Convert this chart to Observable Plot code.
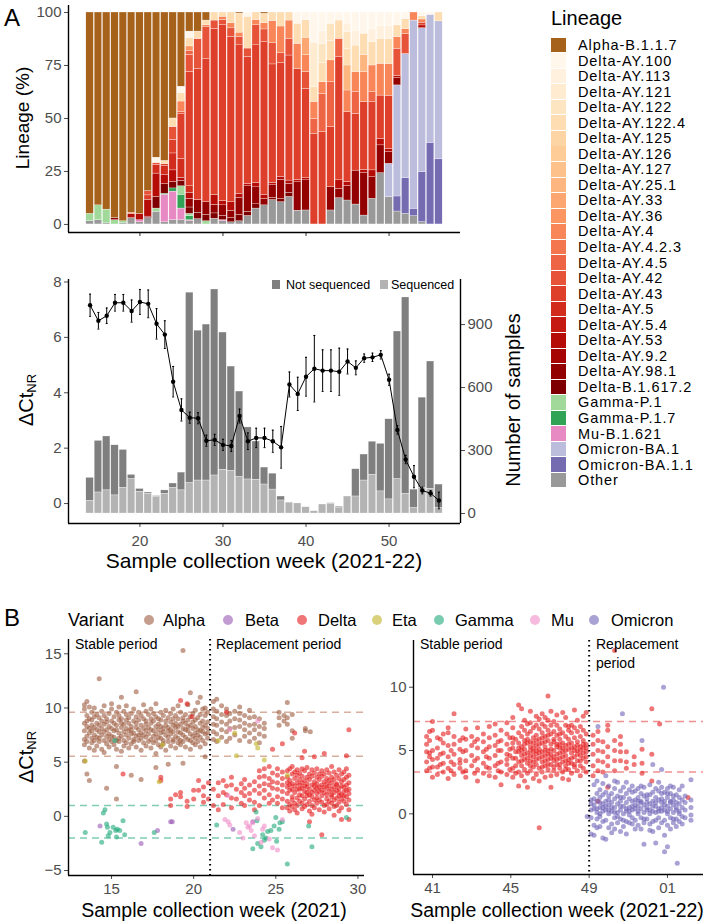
<!DOCTYPE html>
<html><head><meta charset="utf-8">
<script src="https://cdn.jsdelivr.net/npm/d3@7"></script>
<script src="https://cdn.jsdelivr.net/npm/@observablehq/plot@0.6"></script>
<style>
body{margin:0;background:#fff;}
#fig{position:relative;width:708px;height:924px;font-family:"Liberation Sans",Arial,Helvetica,sans-serif;color:#000;overflow:hidden;background:#fff}
.abs{position:absolute;white-space:nowrap;line-height:1}
.rot{transform:translate(-50%,-50%) rotate(-90deg)}
.ctr{transform:translate(-50%,-50%)}
.vc{transform:translateY(-50%)}
svg{position:absolute;overflow:visible}
</style></head><body><div id="fig"></div>
<script>
// ---------------- DATA: panel A top (lineage %, [week, value]) ----------------
const weeks = [14,15,16,17,18,19,20,21,22,23,24,25,26,27,28,29,30,31,32,33,34,35,36,37,38,39,40,41,42,43,44,45,46,47,48,49,50,51,52,53,54,55,56];
const lineages = ["Alpha-B.1.1.7","Delta-AY.100","Delta-AY.113","Delta-AY.121","Delta-AY.122","Delta-AY.122.4","Delta-AY.125","Delta-AY.126","Delta-AY.127","Delta-AY.25.1","Delta-AY.33","Delta-AY.36","Delta-AY.4","Delta-AY.4.2.3","Delta-AY.4.5","Delta-AY.42","Delta-AY.43","Delta-AY.5","Delta-AY.5.4","Delta-AY.53","Delta-AY.9.2","Delta-AY.98.1","Delta-B.1.617.2","Gamma-P.1","Gamma-P.1.7","Mu-B.1.621","Omicron-BA.1","Omicron-BA.1.1","Other"];
const alphaB117 = [[14,95],[15,91],[16,93],[17,97],[18,98.5],[19,94.5],[20,95],[21,84.3],[22,68.5],[23,70],[24,50],[25,35],[26,9],[27,9],[28,3.8],[32,0.5],[35,0.6]];
const deltaAY100 = [[22,2.5],[25,3],[26,3],[33,2],[39,5.3],[40,3.7],[41,14.2],[42,8.8],[43,5.3],[44,3.8],[45,5.3],[46,8.6],[47,10],[48,8],[49,6.4],[50,6.5],[51,6.1],[52,3.1],[54,1.8],[55,1.1]];
const deltaAY113 = [[42,6],[45,4],[46,7],[48,6],[49,6],[50,6]];
const deltaAY121 = [[41,21]];
const deltaAY122 = [[42,9],[43,8],[45,8]];
const deltaAY1224 = [[23,1.5],[24,4],[25,4],[26,4],[27,3.5],[28,2.2],[29,3.8],[30,2],[31,5],[32,9],[33,15],[34,3.5],[35,4.4],[36,4],[37,6.6],[38,3.8],[39,9.5],[40,8.2],[41,7],[42,9.1],[43,9.3],[44,8.6],[45,7.7],[46,12.5],[47,10],[48,11],[49,11.8],[50,11.8],[51,5.5],[52,4.7],[54,1.5],[56,4.2]];
const deltaAY125 = [];
const deltaAY126 = [];
const deltaAY127 = [];
const deltaAY251 = [[45,11.8],[47,8.1]];
const deltaAY33 = [[40,8.2]];
const deltaAY36 = [[26,2]];
const deltaAY4 = [[19,0.5],[25,5],[28,1],[30,1.5],[31,2.5],[32,2],[34,2.5],[35,3],[36,10.5],[37,12.6],[38,8.6],[39,11.8],[40,8],[41,8],[42,5.5],[43,10.3],[45,10.2],[46,9.5],[47,14.2],[48,12.6],[49,15],[50,15],[51,5.5],[52,2.4],[53,3.8],[54,1.5]];
const deltaAY423 = [];
const deltaAY45 = [[26,2],[41,7],[42,18],[43,21.2],[44,8.7],[46,10.2],[48,4.7]];
const deltaAY42 = [[21,2],[22,1],[24,6],[25,1],[26,8],[27,14],[28,15],[29,3.9],[30,2.5],[31,4],[32,4],[33,4],[34,9.5],[35,6],[36,10],[37,4.7],[38,7.9],[40,7.9],[51,12.9],[52,9.4]];
const deltaAY43 = [[21,2],[23,1],[24,6.5],[25,21],[26,54],[27,62],[28,67.5],[29,78.4],[30,83],[31,78],[32,70],[33,60],[34,65],[35,72],[36,56],[37,53.6],[38,59],[39,52.5],[40,42.2],[41,42.8],[42,43.6],[43,28.3],[44,58.1],[45,33],[46,26.8],[47,32],[48,32.2],[49,20.4],[50,25],[54,1.3]];
const deltaAY5 = [[22,4],[23,4],[24,8],[25,9],[26,3]];
const deltaAY54 = [];
const deltaAY53 = [[19,2],[20,3],[21,8],[22,11],[23,4.5],[24,5.5],[25,1.5],[26,3],[29,4.7],[30,2],[31,4],[32,2],[33,1],[34,2],[35,2],[36,1],[37,1.5],[38,1.5],[39,1],[40,1],[44,4],[45,1.7],[47,1.5],[48,3.2],[49,3.1],[50,1.6],[51,1],[54,1.3]];
const deltaAY92 = [];
const deltaAY981 = [[17,1],[26,4],[27,6],[28,6],[29,4],[30,5],[31,3.5],[32,8],[33,12],[34,8],[35,3],[36,6],[37,9],[38,4.2],[39,13.4],[40,14.2],[43,11],[44,4.4],[45,7],[46,16],[47,20],[48,10.2],[49,13.1],[50,5.5],[51,3.4]];
const deltaB16172 = [[21,0.7],[22,5.5],[23,4.5],[24,3],[25,2.5],[26,3],[27,3],[28,3],[29,2.5],[30,2],[31,2],[32,3],[33,2],[34,2],[36,1],[37,1.5],[38,2]];
const gammaP1 = [[14,3.5],[15,7],[16,6.5],[17,2],[18,1],[22,1.5],[25,4],[26,1],[28,1.5]];
const gammaP17 = [[23,0.5],[24,1.5],[25,6.5],[26,2]];
const muB1621 = [[20,1],[23,13],[24,13.5],[25,5.5],[26,0.5],[30,0.5]];
const omicronBA1 = [[50,15.7],[51,52.4],[52,58.6],[53,88.8],[54,67.9],[55,60.4],[56,65.1]];
const omicronBA11 = [[51,7.1],[52,16.8],[53,3.5],[54,23.6],[55,38.5],[56,30.7]];
const otherLineage = [[14,1.5],[15,2],[16,0.5],[18,0.5],[19,3],[20,1],[21,3],[22,6],[23,1],[24,2],[25,2],[26,1.5],[27,2.5],[29,2.7],[30,1.5],[31,1],[32,1.5],[33,4],[34,7.5],[35,9],[36,11.5],[37,10.5],[38,13],[39,6.5],[40,6.6],[43,6.6],[44,12.4],[45,11.3],[46,9.4],[47,4.2],[48,12.1],[49,24.2],[50,12.9],[51,6.1],[52,5],[53,3.9],[54,1.1]];

// ---------------- DATA: panel A bottom ----------------
const totalSamples = [170,346,367,325,303,184,117,100,83,110,143,195,1052,871,900,1067,862,700,581,410,343,219,190,81,52,48,30,11,43,49,32,81,211,281,342,332,449,867,1029,114,552,724,138];
const sequencedSamples = [59,100,110,86,121,163,103,94,78,94,121,110,144,157,157,181,208,202,173,162,160,138,114,62,52,48,30,11,43,45,25,81,81,157,184,105,67,163,94,25,120,117,25];
const deltaCtMean = [7.16,6.6,6.78,7.25,7.25,6.95,7.28,7.21,6.49,6.1,4.4,3.38,3.1,3.08,2.27,2.3,2.12,2.08,3.16,2.25,2.37,2.37,2.25,2.03,4.3,3.96,4.58,4.87,4.8,4.8,4.76,5.13,4.9,5.25,5.28,5.37,4.47,2.66,1.59,0.97,0.47,0.37,0.11];
const deltaCtErr = [0.4,0.3,0.28,0.3,0.3,0.4,0.45,0.5,0.55,0.5,0.55,0.4,0.2,0.2,0.2,0.2,0.2,0.2,0.25,0.3,0.35,0.35,0.4,0.75,0.45,0.6,0.7,1.2,0.75,0.75,0.85,0.45,0.25,0.15,0.15,0.15,0.2,0.15,0.15,0.4,0.12,0.1,0.3];

// ---------------- DATA: panel B (x = week, y = ΔCt) ----------------
const alphaLeft = [
[13.35,[5.1,7.9,8.6,9.9,7.1,10.3,6.6]],[13.5,[3.9,8.3,7.4,9.3,10.6,6.9,8.8]],[13.65,[3.3,7.7,9.0,8.1,6.3,10.1]],[13.8,[7.2,8.9,6.8,9.6,7.9,8.4]],
[13.95,[6.1,8.2,7.5,9.2,10.0,7.0]],[14.1,[8.6,7.3,6.5,9.4,8.0]],[14.25,[12.7,7.8,9.1,6.9,8.4,7.2]],[14.4,[7.5,8.8,6.2,9.7,8.1]],
[14.55,[5.9,7.0,8.5,9.3,7.8,10.2]],[14.7,[2.6,8.0,6.7,7.4,9.0,8.7]],[14.85,[7.6,9.5,6.4,8.3,7.1]],[15.0,[6.9,8.1,9.9,7.4,8.8,10.4]],
[15.15,[7.3,8.6,6.6,9.2,7.9]],[15.3,[1.6,4.6,8.4,7.0,9.6,6.2,8.0]],[15.45,[7.7,8.9,6.9,9.3,7.2,10.1]],[15.6,[11.0,8.2,7.4,6.0,9.0,8.6]],
[15.75,[7.0,8.5,9.7,6.5,7.8]],[15.9,[6.8,7.5,8.9,9.4,8.1,10.2]],[16.05,[7.9,6.3,8.6,9.1,7.2]],[16.2,[3.8,7.6,8.3,6.7,9.5,8.0]],
[16.35,[7.1,8.8,9.9,6.9,7.7]],[16.5,[11.5,8.2,7.4,9.2,6.4,8.6]],[16.65,[7.0,8.0,9.6,7.5,8.9]],[16.8,[3.4,6.1,7.7,8.4,9.3,7.2]],
[16.95,[8.1,6.8,9.0,7.5,10.3]],[17.1,[7.3,8.5,6.5,9.7,7.9,8.8]],[17.25,[6.9,8.2,9.4,7.6]],[17.4,[8.0,7.1,9.0,6.3,8.6,9.9]],
[17.55,[7.4,8.8,6.8,9.5,7.9]],[17.7,[4.5,7.0,8.3,9.2,7.6,10.4,5.8]],[17.85,[8.5,7.3,6.6,9.0,8.0]],[18.0,[7.7,8.9,6.4,9.6,7.2,8.3]],
[18.15,[7.0,8.1,9.3,7.8,6.7]],[18.3,[8.4,7.5,9.8,6.1,8.8]],[18.45,[4.8,7.9,6.9,9.1,8.2,7.3]],[18.6,[7.6,8.7,9.5,6.5,8.0]],
[18.75,[7.1,8.4,9.9,6.9,7.8,9.0]],[18.9,[8.2,7.4,6.3,9.3,8.6]],[19.05,[7.8,9.0,6.8,8.3,10.2,7.2]],[19.2,[8.5,7.0,9.6,7.7,6.6]],
[19.35,[15.3,4.9,8.1,7.5,9.1,8.8,6.9]],[19.5,[7.3,8.6,9.4,6.4,8.0]],[19.65,[7.9,8.9,7.1,10.3,8.3]],[19.8,[11.4,7.6,8.4,6.2,9.2,7.0]],
[19.95,[8.1,9.5,7.4,6.8,8.7]],[20.1,[7.7,8.9,9.8,7.2,8.3,6.6]],[20.25,[10.5,8.0,7.5,9.1,6.9]],[20.4,[11.0,8.6,7.3,9.4,7.9,6.4]],
[20.55,[7.8,8.8,9.9,7.0,8.2]],[20.7,[5.5,8.4,7.6,9.3,6.7,10.0]],[20.85,[8.1,7.2,9.6,8.7,7.7]],
[21.2,[7.1,7.8,8.5,9.2,9.9,10.6]],[21.4,[6.9,7.6,8.4,9.0,9.7,10.8]],[21.7,[7.3,8.0,8.7,9.4,10.2]],[22.0,[6.9,7.8,8.5,9.3,9.9]],
[22.2,[7.2,8.1,8.8,9.5]],[22.5,[7.5,8.2,9.0,9.7]],[22.8,[7.0,8.3,8.9,9.5,10.1]],[23.1,[7.4,8.0,8.6,9.3]],[23.4,[6.9,7.7,8.4,9.1,9.8]],
[23.7,[7.2,8.0,8.5,9.2]],[24.0,[6.8,7.6,8.3,9.0]],[24.3,[7.4,8.1,8.6]],[25.2,[8.4,9.1,9.6]],[25.5,[8.8,9.3]],[25.7,[8.5,9.1,10.5]],
[26.0,[7.2,7.9,9.4]],[26.8,[8.1,7.9]],[27.1,[7.8]]
];
const deltaLeft = [
[15.7,[3.9]],[18.0,[3.6,3.3]],[18.6,[1.6,1.0]],[18.9,[2.0]],[19.2,[10.7,1.8,2.2]],[19.6,[10.4,1.4,0.9]],[19.9,[9.2]],[20.0,[2.4,1.6]],[20.3,[2.4,3.3]],
[20.6,[1.3,1.9,2.7]],[20.9,[1.6,3.1]],[21.2,[2.5,1.0]],[21.5,[3.1,1.9,0.6]],[21.8,[3.3,2.2,1.1]],[22.0,[2.8,2.0,9.6]],[22.3,[1.7,2.9,3.6,0.8]],
[22.6,[2.5,1.6]],[22.9,[3.0,2.2,1.2]],[23.1,[2.6,1.9,1.0,3.4]],[23.4,[2.1,2.9,1.5]],[23.7,[3.2,2.4,1.3,0.6]],[24.0,[2.8,2.1,3.6,4.2,1.0]],
[24.3,[2.4,3.0,3.7,4.4,1.7]],[24.6,[2.0,2.9,3.5,4.6,1.2]],[24.8,[2.6,3.2,4.0,1.5,6.2]],[25.1,[1.8,2.5,3.1,3.8,4.4,1.2]],[25.4,[0.8,1.6,2.3,2.9,3.5,4.1,6.7]],
[25.7,[1.4,2.7,3.6,0.8,2.1,4.2,3.1]],[25.85,[2.4,1.1,3.3,4.4,0.5,2.9]],[26.0,[1.8,3.0,2.5,0.9,3.9,4.6,1.5]],[26.15,[2.2,3.5,1.2,4.1,2.8,0.6,7.7]],
[26.3,[3.1,1.7,2.5,3.8,0.3,4.3,1.0]],[26.45,[2.0,2.9,1.4,3.4,4.0,2.5]],[26.6,[1.2,2.6,3.7,0.7,3.1,1.9,5.4,4.4]],[26.75,[2.3,3.3,1.6,4.2,0.9,2.8,6.0]],
[26.9,[1.9,2.7,3.6,1.1,3.0,4.5,2.2]],[27.05,[2.5,1.4,3.4,0.5,3.9,2.0,-0.5]],[27.2,[2.9,1.8,3.7,2.2,4.3,1.0,0.2]],[27.35,[1.5,2.4,3.2,4.0,0.8,2.8,5.5]],
[27.5,[2.1,3.0,1.2,3.6,2.6,4.4,1.7]],[27.65,[2.7,1.5,3.4,0.6,2.3,3.9]],[27.8,[1.9,2.9,3.7,-1.7,1.3,2.4,4.2]],[27.95,[2.2,3.2,1.0,3.9,2.7,0.4,5.8]],
[28.1,[1.6,2.6,3.5,4.3,2.0,1.1,3.0]],[28.25,[2.8,1.4,3.3,2.3,0.7,4.0]],[28.4,[2.0,3.1,1.8,4.6,2.5,3.6,1.2]],[28.55,[1.5,2.7,3.4,0.9,2.2,4.1,0.1]],
[28.7,[2.4,3.0,1.7,3.8,2.9,1.0]],[28.85,[1.9,2.6,3.5,1.3,4.3,2.2,0.5]],[29.0,[2.8,1.6,3.2,2.0,3.9,0.8,-0.3]],[29.15,[2.3,3.4,1.4,2.7,4.1,1.9]],
[29.3,[1.8,2.9,3.6,1.1,2.4,4.4,5.6]],[29.45,[2.5,1.5,3.1,0.6,3.8,2.1,8.0,-0.3]]
];
const gammaLeft = [[13.4,-1.5],[14.4,-2.4],[14.5,0.3],[14.6,0.6],[14.7,-0.7],[14.75,-1.0],[14.8,-1.8],[14.9,-1.5],[15.1,-1.0],[15.2,7.0],[15.25,-1.3],[15.3,-1.9],[15.35,-1.2],[15.5,-1.3],[15.7,-0.4],[15.8,-1.7],[17.6,-1.5],[21.4,-0.8],[23.6,-3.0],[23.8,0.4],[23.85,-0.4],[23.9,-2.5],[24.1,-2.8],[24.2,-1.7],[24.3,-2.2],[24.4,-2.0],[24.5,-1.4],[24.7,-1.3],[24.9,-0.9],[25.0,-0.1],[25.05,-2.3],[25.2,-1.2],[25.25,-0.6],[25.4,-0.5],[25.7,-4.4],[27.0,-0.9],[27.2,-2.8],[29.3,-0.1]];
const betaLeft = [[14.3,-0.9],[16.8,-2.5],[17.8,-1.3],[18.6,-0.5],[18.7,-0.5],[22.4,-1.2],[23.6,-0.5]];
const muLeft = [[22.2,8.0],[23.9,8.8],[21.9,-0.3],[22.1,-0.5],[22.2,-0.8],[22.8,-1.5],[23.0,-2.0],[23.2,-0.6],[23.3,-1.0],[23.4,-0.9],[23.5,-1.3],[23.6,-0.6],[23.7,-1.8],[23.9,-0.2],[24.1,-2.4],[24.2,-1.2],[24.3,-0.9],[24.6,-2.1],[24.8,-2.9],[25.1,-3.1],[25.4,-0.3],[22.1,1.9]];
const etaLeft = [[13.4,5.1],[17.9,3.2],[18.1,6.6],[21.5,7.0],[22.5,7.7],[22.6,5.6],[23.8,6.7],[23.9,6.3],[24.3,5.2],[25.7,3.8]];
const deltaRight = [
[40.7,[3.4,4.9,6.1,4.1,5.5]],[40.85,[4.5,5.8,3.6,6.5,4.8]],[41.0,[2.9,5.0,4.3,6.6,7.3,3.7]],[41.25,[3.7,5.2,4.4,6.0,3.1]],[41.4,[5.9,4.7,3.9]],
[41.55,[3.3,4.8,5.6,6.3,4.0]],[41.8,[2.8,4.5,5.4,3.6,6.4,6.8]],[41.95,[5.0,4.1,3.4]],[42.1,[3.1,4.7,5.5,3.9,6.1,7.9]],[42.4,[3.6,5.1,4.3,5.8,4.0]],
[42.55,[4.9,3.3,6.0]],[42.7,[2.9,4.2,5.0,3.4,5.9,6.7]],[43.0,[3.8,5.4,4.6,6.1]],[43.15,[4.2,5.7,3.2]],[43.3,[2.6,4.4,3.5,5.2,5.9,6.8]],
[43.6,[3.2,4.9,4.0,5.7,6.3]],[43.75,[5.1,3.7,4.5]],[43.9,[3.6,5.3,4.4,6.0,6.9,3.0]],[44.2,[2.9,4.6,3.8,5.4,6.2,7.1]],[44.35,[4.0,5.0,3.4,5.7]],
[44.5,[3.3,5.0,4.1,5.8,6.6,2.3]],[44.8,[3.1,4.7,3.9,5.5,6.3,7.2,4.3]],[44.95,[5.1,3.5,6.0,4.6]],[45.1,[2.9,4.4,3.6,5.2,6.0,6.8,7.6,5.6]],
[45.25,[3.8,4.9,5.9,3.2,4.4]],[45.4,[3.3,4.9,4.1,5.6,6.4,8.6,2.2,5.2]],[45.55,[3.0,4.6,3.8,5.3,6.1,6.9,8.3,4.2,5.0]],[45.7,[2.6,4.3,3.5,5.1,5.8,6.6,7.4,4.7,5.5]],
[45.85,[3.2,4.8,4.0,5.6,6.3,7.1,2.1,4.4,5.9]],[46.0,[3.4,5.0,4.2,5.7,6.5,7.2,8.1,4.6,5.3,3.8]],[46.15,[2.8,4.5,3.7,5.2,6.0,6.8,4.9,5.6,4.1]],
[46.3,[3.1,4.7,3.9,5.4,6.2,7.0,7.7,5.0,5.8,4.3]],[46.45,[3.6,5.1,4.4,5.9,6.7,7.5,2.6,4.8,5.5,-1.1]],[46.6,[3.3,4.9,4.1,5.6,6.4,7.1,7.9,4.5,6.0,3.7]],
[46.75,[2.9,4.6,3.8,5.3,6.1,6.9,7.6,5.0,5.7,4.2]],[46.9,[3.5,5.0,4.3,5.8,6.6,7.4,9.3,4.7,6.2,3.9]],[47.05,[3.0,4.7,3.9,5.5,6.3,7.0,8.1,2.1,5.1,4.4]],
[47.2,[3.4,5.0,4.2,5.7,6.5,7.3,4.5,5.9,3.7]],[47.35,[3.1,4.7,3.9,5.5,6.2,7.0,7.8,5.3,4.3]],[47.5,[3.6,5.2,4.4,5.9,6.7,4.8,6.3,3.9,5.5]],
[47.65,[3.3,4.9,4.1,5.6,6.4,8.0,2.8,5.2,4.5]],[47.8,[3.8,5.4,4.6,6.1,7.0,7.6,4.2,5.0,3.5]],[47.95,[3.5,5.1,4.3,5.9,6.6,2.7,5.5,4.0,6.9]],
[48.1,[3.2,4.8,4.0,5.6,6.4,7.0,5.2,4.4]],[48.25,[3.7,5.3,4.5,6.0,6.8,8.2,5.0,3.9]],[48.4,[3.4,5.0,4.2,5.7,6.5,7.4,4.7,5.4]],
[48.55,[3.0,4.6,3.8,5.3,6.1,6.9,5.0,4.2]],[48.7,[3.6,5.2,4.4,5.8,6.6,7.7,4.8,5.5]],[48.85,[3.3,4.9,4.1,5.5,6.3,8.0,5.2,4.5]],
[49.2,[3.0,3.8,4.7,5.5,6.2]],[49.45,[3.4,4.2,5.0,5.8,6.5,1.0]],[49.7,[3.3,4.1,4.9,5.7]],[49.95,[3.8,4.5,5.3,6.6,7.0,2.1]],
[50.3,[4.2,5.0,5.8,3.4,12.9]],[50.6,[4.9,5.5,6.1,4.2]],[50.9,[4.1,4.9,3.6]],[51.3,[3.9,4.5]],[51.7,[5.1,4.0,3.2]],[52.2,[8.3,4.7,2.6]],[52.6,[7.1]],[54.05,[1.3]]
];
const omicronRight = [
[48.9,[-0.2]],[49.1,[-1.6,0.3,1.1,-0.3,0.8]],[49.25,[0.4,1.2,-0.9,0.7,2.3,-1.7]],[49.4,[-0.4,0.4,1.0,1.6,2.6,-1.1,0.1]],[49.45,[6.9]],
[49.55,[-0.2,0.5,1.3,1.9,-1.0,0.0,0.9]],[49.7,[0.2,0.8,1.5,-0.6,2.4,0.5,-1.9]],[49.85,[-0.5,0.3,1.0,1.7,-2.0,3.0,0.6]],[50.0,[0.0,0.7,1.4,-1.1,2.2,0.3,1.1]],
[50.15,[-0.8,0.2,0.9,1.6,-1.5,0.5]],[50.3,[-0.3,0.5,1.2,2.0,-1.2,0.1,2.6]],[50.45,[0.1,0.8,1.4,-0.7,2.5,-0.2]],[50.6,[-0.4,0.3,1.0,1.8,-1.4,0.6,1.3]],
[50.7,[7.9]],[50.75,[0.0,0.6,1.3,2.1,-1.0,-0.5]],[50.9,[-0.6,0.2,0.9,1.6,2.5,-1.6,0.4]],[51.05,[-0.1,0.5,1.2,1.9,-0.7,0.2]],[51.2,[0.3,1.0,1.7,-0.8,2.2,-0.3,0.6]],
[51.35,[-0.5,0.4,1.1,1.8,-1.2,0.7]],[51.5,[0.0,0.6,1.3,2.0,-0.9,0.2,1.0]],[51.65,[-0.3,0.4,1.0,1.6,-1.2,0.9,2.2]],[51.7,[5.8]],[51.8,[0.1,0.7,1.4,2.1,-0.7,-0.4,-2.4]],
[51.95,[-0.4,0.3,0.9,1.5,0.5,1.2]],[52.1,[0.0,0.8,1.5,-0.8,2.3,0.3,-1.3]],[52.25,[-0.6,0.2,1.0,1.7,-1.4,0.6,3.9]],[52.4,[0.1,0.6,1.3,2.0,-0.5,0.9,-2.3]],
[52.55,[-0.3,0.4,1.1,1.8,-1.1,0.2,2.5]],[52.7,[0.2,0.9,1.6,-0.7,2.1,0.5,1.2,3.5]],[52.8,[10.0]],[52.85,[-0.5,0.3,1.0,1.7,-1.7,0.7,-3.0]],
[53.0,[0.0,0.6,1.3,2.0,-0.9,0.2,-2.6,1.6]],[53.15,[-0.3,0.4,1.0,1.6,-1.2,0.9,2.2]],[53.3,[0.1,0.7,1.4,2.1,-0.7,-0.4,1.1]],[53.45,[-0.4,0.3,0.9,1.5,0.5,-1.0]],
[53.5,[-3.9]],[53.6,[0.2,0.8,1.3,-0.6,1.9,0.0]],[53.75,[-0.2,0.5,1.1,2.2,-0.8]],[53.9,[0.3,0.9,-0.3,1.4]],[54.2,[-0.5,0.5,1.1,2.7,-0.1]]
];

// ---------------- STYLE ----------------
const FONT = "'Liberation Sans', Arial, Helvetica, sans-serif";
const GREY = "#4d4d4d";
const deltaColors = d3.quantize(d3.interpolateOrRd, 22);
const lineageColors = ["#a6611a", ...deltaColors, "#a1d99b", "#31a354", "#e78ac3", "#bcbddc", "#756bb1", "#999999"];
const variantColor = {Alpha:"#9c5b3f", Beta:"#9b59b6", Delta:"#e41a1c", Eta:"#c2b226", Gamma:"#1fa87a", Mu:"#f08cc8", Omicron:"#7064b8"};
const fig = document.getElementById("fig");
function addText(html, left, top, cls, style) {
  const d = document.createElement("div");
  d.className = "abs " + (cls || "");
  d.style.left = left + "px"; d.style.top = top + "px";
  d.style.cssText += style || "";
  d.innerHTML = html; fig.appendChild(d); return d;
}
function place(svg, left, top) { svg.style.left = left + "px"; svg.style.top = top + "px"; fig.appendChild(svg); }
const baseStyle = {fontFamily: FONT, fontSize: "15px", color: GREY, background: "transparent", overflow: "visible"};

// ---------------- PANEL A top ----------------
const seriesList = [alphaB117,deltaAY100,deltaAY113,deltaAY121,deltaAY122,deltaAY1224,deltaAY125,deltaAY126,deltaAY127,deltaAY251,deltaAY33,deltaAY36,deltaAY4,deltaAY423,deltaAY45,deltaAY42,deltaAY43,deltaAY5,deltaAY54,deltaAY53,deltaAY92,deltaAY981,deltaB16172,gammaP1,gammaP17,muB1621,omicronBA1,omicronBA11,otherLineage];
const stackRows = [];
for (const w of weeks) {
  const vals = seriesList.map(s => { const p = s.find(q => q[0] === w); return p ? p[1] : 0; });
  const tot = d3.sum(vals);
  let cum = 0;
  for (let k = lineages.length - 1; k >= 0; k--) {
    if (vals[k] > 0) { const v = vals[k] / tot * 100; stackRows.push({week: w, lineage: lineages[k], y1: cum, y2: cum + v}); cum += v; }
  }
}
const xDom = [11.4, 58.6];
const yDomTop = [-3.8, 103.3];
const plotTop = Plot.plot({
  width: 470, height: 240, marginLeft: 68, marginRight: 10, marginTop: 5, marginBottom: 8,
  x: {domain: xDom, axis: null}, y: {domain: yDomTop, axis: null},
  color: {domain: lineages, range: lineageColors},
  style: baseStyle,
  marks: [
    Plot.rectY(stackRows, {x1: d => d.week - 0.45, x2: d => d.week + 0.45, y1: "y1", y2: "y2", fill: "lineage", stroke: "white", strokeWidth: 0.3}),
    Plot.axisY({ticks: [0,25,50,75,100], tickSize: 4, tickPadding: 3, label: null, color: GREY}),
    Plot.axisX({ticks: [20,30,40,50], tickSize: 4, tickFormat: () => "", label: null, color: "#333"}),
    Plot.ruleY([yDomTop[0]], {stroke: "black", strokeWidth: 1.4}),
    Plot.ruleX([xDom[0]], {stroke: "black", strokeWidth: 1.4})
  ]
});
place(plotTop, 0, 0);

// ---------------- PANEL A bottom ----------------
const countToCt = c => c / 131.9 - 0.36;
const yDomMid = [-0.72, 8.09];
const plotMid = Plot.plot({
  width: 500, height: 290, marginLeft: 68, marginRight: 40, marginTop: 14, marginBottom: 32,
  x: {domain: xDom, axis: null}, y: {domain: yDomMid, axis: null},
  style: baseStyle,
  marks: [
    Plot.rectY(weeks, {x1: w => w - 0.45, x2: w => w + 0.45, y1: (w, i) => countToCt(sequencedSamples[i]), y2: (w, i) => countToCt(totalSamples[i]), fill: "#7f7f7f", stroke: "white", strokeWidth: 0.3}),
    Plot.rectY(weeks, {x1: w => w - 0.45, x2: w => w + 0.45, y1: () => countToCt(0), y2: (w, i) => countToCt(sequencedSamples[i]), fill: "#b3b3b3", stroke: "white", strokeWidth: 0.3}),
    Plot.ruleX(weeks, {x: w => w, y1: (w, i) => deltaCtMean[i] - deltaCtErr[i], y2: (w, i) => deltaCtMean[i] + deltaCtErr[i], stroke: "black", strokeWidth: 1}),
    Plot.link(weeks, {x1: w => w - 0.12, x2: w => w + 0.12, y1: (w, i) => deltaCtMean[i] - deltaCtErr[i], y2: (w, i) => deltaCtMean[i] - deltaCtErr[i], stroke: "black", strokeWidth: 1}),
    Plot.link(weeks, {x1: w => w - 0.12, x2: w => w + 0.12, y1: (w, i) => deltaCtMean[i] + deltaCtErr[i], y2: (w, i) => deltaCtMean[i] + deltaCtErr[i], stroke: "black", strokeWidth: 1}),
    Plot.line(weeks, {x: w => w, y: (w, i) => deltaCtMean[i], stroke: "black", strokeWidth: 1}),
    Plot.dot(weeks, {x: w => w, y: (w, i) => deltaCtMean[i], r: 2.2, fill: "black"}),
    Plot.axisY({anchor: "left", ticks: [0,2,4,6,8], tickSize: 4, tickPadding: 3, label: null, color: GREY}),
    Plot.axisY({anchor: "right", ticks: [0,300,600,900].map(countToCt), tickFormat: d => String(Math.round((d + 0.36) * 131.9)), tickSize: 4, tickPadding: 3, label: null, color: GREY}),
    Plot.axisX({ticks: [20,30,40,50], tickSize: 4, tickPadding: 8, label: null, color: GREY}),
    Plot.ruleY([yDomMid[0]], {stroke: "black", strokeWidth: 1.4}),
    Plot.ruleX([xDom[0], xDom[1]], {stroke: "black", strokeWidth: 1.4})
  ]
});
place(plotMid, 0, 265);

// ---------------- PANEL B ----------------
const expand = (cols, v) => cols.flatMap(([x, ys]) => ys.map(y => ({x, y, v})));
const pairs = (arr, v) => arr.map(([x, y]) => ({x, y, v}));
const ptsLeft = [...expand(alphaLeft, "Alpha"), ...pairs(betaLeft, "Beta"), ...expand(deltaLeft, "Delta"), ...pairs(etaLeft, "Eta"), ...pairs(gammaLeft, "Gamma"), ...pairs(muLeft, "Mu")];
const ptsRight = [...expand(deltaRight, "Delta"), ...expand(omicronRight, "Omicron")];
const dotOpts = {x: "x", y: "y", r: 2.5, fill: d => variantColor[d.v], fillOpacity: 0.6};

const xDomBL = [12.38, 30.4], yDomBL = [-5.46, 16.32];
const plotBL = Plot.plot({
  width: 370, height: 270, marginLeft: 68, marginRight: 6, marginTop: 9, marginBottom: 25,
  x: {domain: xDomBL, axis: null}, y: {domain: yDomBL, axis: null},
  style: baseStyle,
  marks: [
    Plot.ruleY([9.6, 5.55], {stroke: "#d8ae9c", strokeWidth: 1.5, strokeDasharray: "7,5"}),
    Plot.ruleY([1.0, -2.0], {stroke: "#7fcdb5", strokeWidth: 1.5, strokeDasharray: "7,5"}),
    Plot.dot(ptsLeft, dotOpts),
    Plot.ruleX([21], {stroke: "black", strokeWidth: 2, strokeDasharray: "1.5,3.5"}),
    Plot.axisY({ticks: [-5,0,5,10,15], tickSize: 4, tickPadding: 3, label: null, color: GREY}),
    Plot.axisX({ticks: [15,20,25,30], tickSize: 4, tickPadding: 4, label: null, color: GREY}),
    Plot.ruleY([yDomBL[0]], {stroke: "black", strokeWidth: 1.4}),
    Plot.ruleX([xDomBL[0]], {stroke: "black", strokeWidth: 1.4})
  ]
});
place(plotBL, 0, 630);

const xDomBR = [40.03, 54.84], yDomBR = [-4.79, 13.69];
const plotBR = Plot.plot({
  width: 333, height: 270, marginLeft: 38, marginRight: 5, marginTop: 10, marginBottom: 26,
  x: {domain: xDomBR, axis: null}, y: {domain: yDomBR, axis: null},
  style: baseStyle,
  marks: [
    Plot.ruleY([7.3, 3.3], {stroke: "#f09090", strokeWidth: 1.5, strokeDasharray: "7,5"}),
    Plot.dot(ptsRight, dotOpts),
    Plot.ruleX([49], {stroke: "black", strokeWidth: 2, strokeDasharray: "1.5,3.5"}),
    Plot.axisY({ticks: [0,5,10], tickSize: 4, tickPadding: 3, label: null, color: GREY}),
    Plot.axisX({ticks: [41,45,49,53], tickFormat: d => d > 52 ? String(d - 52).padStart(2, "0") : String(d), tickSize: 4, tickPadding: 4, label: null, color: GREY}),
    Plot.ruleY([yDomBR[0]], {stroke: "black", strokeWidth: 1.4}),
    Plot.ruleX([xDomBR[0]], {stroke: "black", strokeWidth: 1.4})
  ]
});
place(plotBR, 375, 630);

// ---------------- TEXT & LEGENDS ----------------
addText("A", 4, 6, "", "font-size:24px;");
addText("B", 4, 606, "", "font-size:24px;");
addText("Lineage (%)", 22, 118, "rot", "font-size:19px;");
addText("ΔCt<sub style='font-size:13px;vertical-align:-3px'>NR</sub>", 27, 400, "rot", "font-size:20px;");
addText("Number of samples", 513, 400, "rot", "font-size:20px;");
addText("Sample collection week (2021-22)", 264, 560, "ctr", "font-size:21px;");
// middle legend
addText("", 272, 280, "", "width:8px;height:9px;background:#7f7f7f;");
addText("Not sequenced", 286, 285, "vc", "font-size:12.5px;");
addText("", 380, 280, "", "width:8px;height:9px;background:#b3b3b3;");
addText("Sequenced", 391, 285, "vc", "font-size:12.5px;");
// lineage legend
addText("Lineage", 551, 18, "vc", "font-size:20px;");
lineages.forEach((l, i) => {
  const cy = 45 + i * 15.54;
  addText("", 551, cy - 7.3, "", `width:15px;height:14.6px;background:${lineageColors[i]};`);
  addText(l, 578, cy, "vc", "font-size:14.5px;letter-spacing:0.9px;");
});
// panel B texts
addText("ΔCt<sub style='font-size:13px;vertical-align:-3px'>NR</sub>", 27, 757, "rot", "font-size:20px;");
addText("Sample collection week (2021)", 214, 911, "ctr", "font-size:19.5px;");
addText("Sample collection week (2021-22)", 557, 911, "ctr", "font-size:19.5px;");
addText("Stable period", 75, 644, "vc", "font-size:14px;");
addText("Replacement period", 216, 644, "vc", "font-size:14px;");
addText("Stable period", 420, 644, "vc", "font-size:14px;");
addText("Replacement", 596, 644, "vc", "font-size:14px;");
addText("period", 596, 663, "vc", "font-size:14px;");
addText("Variant", 68, 620, "vc", "font-size:18px;");
const legItems = [["Alpha",149,163],["Beta",228,245],["Delta",302,318],["Eta",377,392],["Gamma",439,455],["Mu",535,551],["Omicron",594,611]];
legItems.forEach(([v, cx, tx]) => {
  addText("", cx - 5, 615, "", `width:10px;height:10px;border-radius:50%;background:${variantColor[v]};opacity:0.6;`);
  addText(v, tx, 620, "vc", "font-size:16.5px;");
});
</script></body></html>
